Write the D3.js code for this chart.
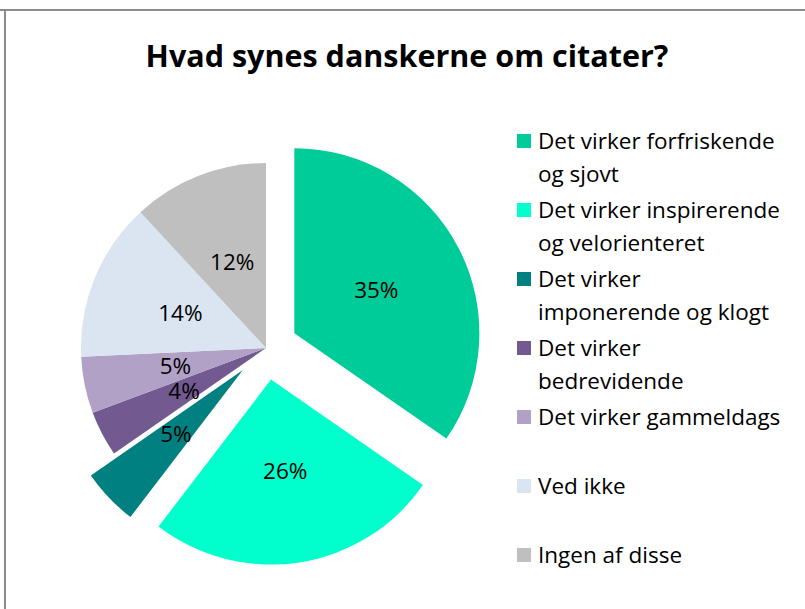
<!DOCTYPE html>
<html>
<head>
<meta charset="utf-8">
<style>
  body { margin: 0; background: #fff; }
  text { font-family: "Open Sans", "Noto Sans", sans-serif; }
</style>
</head>
<body>
<svg id="chart" width="805" height="609"></svg>
<script src="https://cdn.jsdelivr.net/npm/d3@7/dist/d3.min.js"></script>
<script>

// legend labels, line breaks as in the original legend
var categories = [
  "Det virker forfriskende\nog sjovt",
  "Det virker inspirerende\nog velorienteret",
  "Det virker\nimponerende og klogt",
  "Det virker\nbedrevidende",
  "Det virker gammeldags",
  "Ved ikke",
  "Ingen af disse"
];
var shares = [35, 26, 5, 4, 5, 14, 12];
var colors = ["#00cc99", "#00ffcc", "#008080", "#725990", "#b2a1c7", "#dbe5f1", "#bfbfbf"];
var pulledOut = [true, true, true, false, false, false, false];

var svg = d3.select("#chart"),
    width = +svg.attr("width"),
    height = +svg.attr("height");

// frame (top + left edge visible)
svg.append("line")
    .attr("x1", 0).attr("x2", width)
    .attr("y1", 10).attr("y2", 10)
    .attr("stroke", "#8c8c8c").attr("stroke-width", 2);
svg.append("line")
    .attr("x1", 5).attr("x2", 5)
    .attr("y1", 9).attr("y2", height)
    .attr("stroke", "#8c8c8c").attr("stroke-width", 2);

svg.append("text")
    .attr("x", 407)
    .attr("y", 67)
    .attr("text-anchor", "middle")
    .attr("font-weight", "bold")
    .attr("font-size", 30.5)
    .text("Hvad synes danskerne om citater?");

var cx = 266, cy = 348, radius = 185, explode = 32;

var pie = d3.pie().sort(null).value(function(d) { return d; });
var arc = d3.arc().innerRadius(0).outerRadius(radius);
var arcs = pie(shares);

function shift(d, i) {
  if (!pulledOut[i]) return [0, 0];
  var a = (d.startAngle + d.endAngle) / 2;
  return [Math.sin(a) * explode, -Math.cos(a) * explode];
}

var slices = svg.append("g")
    .attr("transform", "translate(" + cx + "," + cy + ")")
  .selectAll("g")
  .data(arcs)
  .enter().append("g")
    .attr("transform", function(d, i) { var s = shift(d, i); return "translate(" + s[0] + "," + s[1] + ")"; });

slices.append("path")
    .attr("d", arc)
    .attr("fill", function(d, i) { return colors[i]; });

slices.append("text")
    .attr("transform", function(d) { return "translate(" + arc.centroid(d) + ")"; })
    .attr("dy", "0.35em")
    .attr("text-anchor", "middle")
    .attr("font-size", 22.5)
    .attr("fill", "#000")
    .text(function(d) { return d.data + "%"; });

// legend
var legend = svg.append("g").attr("transform", "translate(517,0)");

categories.forEach(function(label, i) {
  var yc = 141 + i * 69;
  legend.append("rect")
      .attr("x", 0).attr("y", yc - 7)
      .attr("width", 14).attr("height", 14)
      .attr("fill", colors[i]);

  legend.append("text")
      .attr("font-size", 22.5)
      .attr("fill", "#000")
    .selectAll("tspan")
    .data(label.split("\n"))
    .enter().append("tspan")
      .attr("x", 21)
      .attr("y", function(d, j) { return yc + j * 33; })
      .attr("dy", "0.35em")
      .text(function(d) { return d; });
});

</script>
</body>
</html>
